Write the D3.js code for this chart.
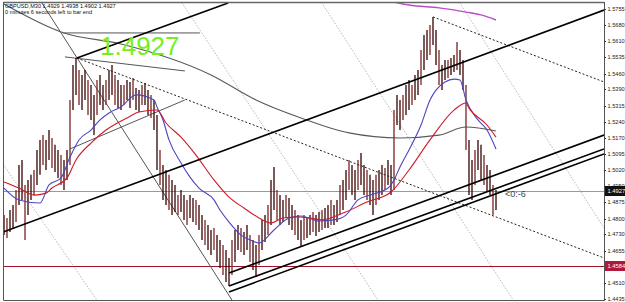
<!DOCTYPE html>
<html>
<head>
<meta charset="utf-8">
<script src="https://cdnjs.cloudflare.com/ajax/libs/d3/7.8.5/d3.min.js"></script>
<style>
  body { margin: 0; background: #fff; }
  svg { display: block; }
  text { font-family: "Liberation Sans", Arial, sans-serif; }
</style>
</head>
<body>
<div id="chart"></div>
<script>
// GBPUSD M30 - bar highs / lows, one per bar
const barHigh = [1.4817,1.4804,1.4840,1.4863,1.4931,1.5045,1.5068,1.4954,1.4977,1.5000,
  1.5022,1.5113,1.5159,1.5181,1.5159,1.5204,1.5168,1.5137,1.5113,1.5090,
  1.5068,1.5113,1.5341,1.5500,1.5532,1.5477,1.5455,1.5477,1.5432,1.5409,
  1.5364,1.5432,1.5455,1.5409,1.5432,1.5477,1.5500,1.5455,1.5432,1.5409,
  1.5409,1.5432,1.5423,1.5441,1.5395,1.5386,1.5409,1.5418,1.5386,1.5364,
  1.5341,1.5273,1.5113,1.5045,1.5022,1.5000,1.4977,1.4954,1.4908,1.4931,
  1.4908,1.4886,1.4908,1.4895,1.4886,1.4863,1.4817,1.4795,1.4772,1.4749,
  1.4758,1.4726,1.4704,1.4681,1.4658,1.4622,1.4704,1.4749,1.4772,1.4758,
  1.4740,1.4772,1.4726,1.4704,1.4681,1.4726,1.4795,1.4817,1.4863,1.4977,
  1.5036,1.4931,1.4908,1.4886,1.4908,1.4895,1.4863,1.4840,1.4817,1.4795,
  1.4817,1.4804,1.4817,1.4831,1.4817,1.4831,1.4840,1.4849,1.4863,1.4886,
  1.4863,1.4886,1.4954,1.4977,1.5022,1.5068,1.5045,1.5022,1.5068,1.5100,
  1.5045,1.5022,1.5000,1.4977,1.5000,1.5022,1.5045,1.5031,1.5068,1.5045,
  1.5295,1.5364,1.5341,1.5364,1.5409,1.5432,1.5409,1.5455,1.5477,1.5568,
  1.5637,1.5659,1.5682,1.5719,1.5659,1.5568,1.5500,1.5523,1.5523,1.5532,
  1.5546,1.5605,1.5568,1.5523,1.5409,1.5159,1.5068,1.5113,1.5159,1.5137,
  1.5090,1.5045,1.5022,1.4954,1.4931];
const barLow = [1.4726,1.4713,1.4740,1.4758,1.4785,1.4863,1.4886,1.4704,1.4817,1.4886,
  1.4908,1.4954,1.5000,1.5045,1.5022,1.5068,1.5031,1.5013,1.4986,1.4954,
  1.4931,1.4977,1.5045,1.5295,1.5364,1.5318,1.5295,1.5341,1.5273,1.5250,
  1.5181,1.5273,1.5318,1.5295,1.5318,1.5341,1.5364,1.5318,1.5304,1.5295,
  1.5318,1.5341,1.5304,1.5341,1.5295,1.5286,1.5318,1.5318,1.5273,1.5259,
  1.5204,1.5022,1.4954,1.4886,1.4863,1.4840,1.4817,1.4831,1.4817,1.4831,
  1.4795,1.4772,1.4804,1.4785,1.4772,1.4749,1.4704,1.4681,1.4658,1.4635,
  1.4658,1.4603,1.4576,1.4544,1.4512,1.4494,1.4544,1.4603,1.4658,1.4649,
  1.4635,1.4658,1.4603,1.4567,1.4535,1.4590,1.4658,1.4694,1.4726,1.4772,
  1.4840,1.4795,1.4772,1.4785,1.4804,1.4772,1.4749,1.4726,1.4704,1.4676,
  1.4704,1.4713,1.4726,1.4740,1.4722,1.4740,1.4749,1.4758,1.4758,1.4772,
  1.4772,1.4785,1.4817,1.4840,1.4886,1.4931,1.4908,1.4886,1.4931,1.4954,
  1.4908,1.4886,1.4863,1.4817,1.4863,1.4886,1.4908,1.4931,1.4954,1.4908,
  1.4931,1.5227,1.5204,1.5250,1.5273,1.5295,1.5318,1.5341,1.5364,1.5409,
  1.5477,1.5523,1.5546,1.5591,1.5500,1.5409,1.5386,1.5432,1.5441,1.5455,
  1.5468,1.5477,1.5455,1.5386,1.5113,1.4908,1.4886,1.4954,1.5022,1.4977,
  1.4954,1.4922,1.4908,1.4817,1.4840];

// moving averages, sampled at bar index
const blueMaIdx = [0,5,12,15,19,22,25,29,32,35,39,44,50,51,53,55,59,62,65,70,72,75,79,82,85,90,95,99,105,110,114,118,122,128,130,132,135,139,142,144,147,150,152,154,158,161,164];
const blueMaVal = [1.4940,1.4886,1.4872,1.4954,1.4986,1.5081,1.5159,1.5204,1.5250,1.5282,1.5309,1.5364,1.5341,1.5309,1.5250,1.5159,1.5054,1.4990,1.4940,1.4886,1.4840,1.4785,1.4726,1.4704,1.4690,1.4749,1.4804,1.4813,1.4790,1.4795,1.4817,1.4886,1.4908,1.4940,1.4977,1.5036,1.5113,1.5227,1.5341,1.5386,1.5423,1.5436,1.5432,1.5341,1.5250,1.5204,1.5118];
const redMaIdx = [0,5,10,14,16,21,24,29,34,41,45,51,54,59,64,70,75,80,85,89,93,98,102,106,113,121,129,135,142,150,154,155,161,164];
const redMaVal = [1.4968,1.4940,1.4908,1.4917,1.4940,1.4986,1.5068,1.5145,1.5204,1.5259,1.5286,1.5295,1.5236,1.5172,1.5090,1.4977,1.4899,1.4849,1.4804,1.4781,1.4804,1.4808,1.4804,1.4795,1.4826,1.4876,1.4922,1.5022,1.5159,1.5295,1.5327,1.5304,1.5227,1.5172];
const grayMaIdx = [0,20,39,69,84,99,115,132,145,154,164];
const grayMaVal = [1.5778,1.5646,1.5596,1.5455,1.5341,1.5259,1.5191,1.5168,1.5181,1.5218,1.5200];
const purpleMaIdx = [130,135,145,154,159,164];
const purpleMaVal = [1.5787,1.5773,1.5760,1.5741,1.5728,1.5705];

// drawn objects: [[barIndex, price], [barIndex, price]]
const channelLines = [
  [[-0.3, 1.4740], [200, 1.5750]],
  [[24.3, 1.5532], [74.7, 1.5782]],
  [[75, 1.4553], [200, 1.5181]],
  [[75, 1.4494], [200, 1.5118]],
  [[75, 1.4467], [200, 1.5095]]
];
const dottedLines = [
  [[24.3, 1.5532], [200, 1.4622]],
  [[143, 1.5719], [200, 1.5423]]
];
const grayLines = [
  [[12, 1.5796], [76, 1.4430]],
  [[19.7, 1.5646], [65.3, 1.5646]],
  [[20.3, 1.5537], [60.3, 1.5473]],
  [[22, 1.5118], [60.3, 1.5341]]
];
const fanLines = [
  [[-1.3, 1.5068], [31, 1.4430]],
  [[58.7, 1.5796], [124.7, 1.4430]],
  [[105.3, 1.5796], [169.7, 1.4430]],
  [[151.3, 1.5796], [200, 1.4758]]
];

const priceTicks = [1.5755,1.5680,1.5610,1.5535,1.5460,1.5390,1.5315,1.5240,1.5170,1.5095,
  1.5020,1.4950,1.4875,1.4800,1.4730,1.4655,1.4510,1.4435];
const bidPrice = 1.4927;
const alertPrice = 1.4584;
const headerLines = ["GBPUSD,M30  1.4929 1.4938 1.4902 1.4927", "0 minutes 6 seconds left to bar end"];
const bigLabel = "1.4927";
const timerLabel = "<0:-6";

const width = 625;
const height = 302;
const plot = { left: 3, right: 604, top: 2, bottom: 300 };

const x = d3.scaleLinear().domain([0, 164]).range([4, 496]);
const y = d3.scaleLinear().domain([1.4435, 1.5755]).range([299, 9]);

const svg = d3.select('#chart').append('svg')
  .attr('width', width)
  .attr('height', height);

svg.append('rect').attr('width', width).attr('height', height).attr('fill', '#fff');

svg.append('clipPath').attr('id', 'clip')
  .append('rect')
  .attr('x', plot.left).attr('y', plot.top)
  .attr('width', plot.right - plot.left).attr('height', plot.bottom - plot.top);

const g = svg.append('g').attr('clip-path', 'url(#clip)');

const seg = d3.line().x(d => x(d[0])).y(d => y(d[1]));

function drawLines(data, stroke, sw, dash) {
  g.selectAll(null).data(data).enter().append('path')
    .attr('d', seg)
    .attr('fill', 'none')
    .attr('stroke', stroke)
    .attr('stroke-width', sw)
    .attr('stroke-dasharray', dash || null);
}

// light fan lines behind everything
drawLines(fanLines, '#b8b8b8', 1, '1.5,1.5');

// horizontal price lines
g.append('line')
  .attr('x1', plot.left).attr('x2', plot.right)
  .attr('y1', Math.round(y(bidPrice)) + 0.5).attr('y2', Math.round(y(bidPrice)) + 0.5)
  .attr('stroke', '#9a9a9a').attr('stroke-width', 1);
g.append('line')
  .attr('x1', plot.left).attr('x2', plot.right)
  .attr('y1', Math.round(y(alertPrice)) + 0.5).attr('y2', Math.round(y(alertPrice)) + 0.5)
  .attr('stroke', '#a3102c').attr('stroke-width', 1.2);

drawLines(grayLines, '#555', 1);

// moving averages
const maLine = d3.line().curve(d3.curveMonotoneX).x(d => x(d[0])).y(d => y(d[1]));
function drawMa(idx, vals, color, sw) {
  g.append('path')
    .datum(idx.map((d, i) => [d, vals[i]]))
    .attr('d', maLine)
    .attr('fill', 'none')
    .attr('stroke', color)
    .attr('stroke-width', sw);
}
drawMa(grayMaIdx, grayMaVal, '#5a5a5a', 1.1);
drawMa(purpleMaIdx, purpleMaVal, '#b84fc8', 1.4);

// bars
g.selectAll('.bar').data(barHigh).enter().append('line')
  .attr('class', 'bar')
  .attr('x1', (d, i) => x(i)).attr('x2', (d, i) => x(i))
  .attr('y1', d => y(d))
  .attr('y2', (d, i) => y(barLow[i]))
  .attr('stroke', (d, i) => i % 3 === 1 ? '#7a2222' : '#360303')
  .attr('stroke-width', 1.3);

drawMa(blueMaIdx, blueMaVal, '#4a45c0', 1.1);
drawMa(redMaIdx, redMaVal, '#cc1a2a', 1.1);

drawLines(dottedLines, '#222', 1, '2,2');
drawLines(channelLines, '#000', 1.6);

// frame
svg.append('path')
  .attr('d', `M${plot.left + 0.5},${plot.top}V${plot.bottom + 0.5}H${plot.right + 0.5}V${plot.top}`)
  .attr('fill', 'none').attr('stroke', '#555').attr('stroke-width', 1);
svg.append('line')
  .attr('x1', plot.left).attr('x2', plot.right)
  .attr('y1', plot.top + 0.5).attr('y2', plot.top + 0.5)
  .attr('stroke', '#666').attr('stroke-width', 1.5);

// price axis
const axis = svg.append('g');
axis.selectAll('.tick').data(priceTicks).enter().append('line')
  .attr('x1', plot.right).attr('x2', plot.right + 2)
  .attr('y1', d => Math.round(y(d)) + 0.5).attr('y2', d => Math.round(y(d)) + 0.5)
  .attr('stroke', '#333');
axis.selectAll('.lbl').data(priceTicks).enter().append('text')
  .attr('x', plot.right + 3.5)
  .attr('y', d => y(d) + 2)
  .attr('font-size', 5.6)
  .attr('fill', '#222')
  .text(d => d.toFixed(4));

function priceBox(price, fill) {
  const yy = Math.round(y(price));
  axis.append('rect')
    .attr('x', plot.right + 1).attr('y', yy - 5)
    .attr('width', width - plot.right - 1).attr('height', 10)
    .attr('fill', fill);
  axis.append('text')
    .attr('x', plot.right + 3.5).attr('y', yy + 2.2)
    .attr('font-size', 5.8).attr('fill', '#fff')
    .text(price.toFixed(4));
}
priceBox(bidPrice, '#111');
priceBox(alertPrice, '#b0183a');

// texts
svg.selectAll('.hdr').data(headerLines).enter().append('text')
  .attr('x', 5)
  .attr('y', (d, i) => 8 + i * 6)
  .attr('font-size', 5.6)
  .attr('fill', '#111')
  .text(d => d);

svg.append('text')
  .attr('x', x(32))
  .attr('y', 55)
  .attr('font-size', 26)
  .attr('fill', '#76ee22')
  .text(bigLabel);

svg.append('text')
  .attr('x', x(164) + 9)
  .attr('y', y(bidPrice) + 6)
  .attr('font-size', 9)
  .attr('fill', '#444')
  .text(timerLabel);
</script>
</body>
</html>
